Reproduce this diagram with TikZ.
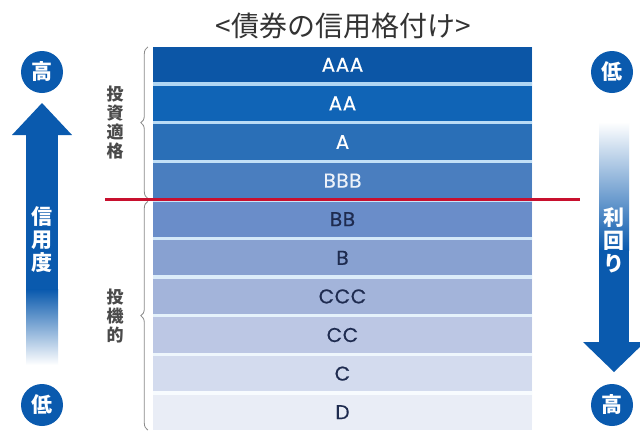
\documentclass[tikz,border=0pt]{standalone}
\usepackage{fontspec}
\setmainfont{Noto Sans CJK JP}
\newfontfamily\ratingfont[FakeBold=0.5, LetterSpace=3]{Poppins}
\usetikzlibrary{calc,positioning,decorations.pathreplacing}
\definecolor{RateAAA}{HTML}{0C56A6}
\definecolor{RateAA}{HTML}{1064B6}
\definecolor{RateA}{HTML}{2A6FB7}
\definecolor{RateBBB}{HTML}{4A7EBF}
\definecolor{RateBB}{HTML}{6A8DC9}
\definecolor{RateB}{HTML}{88A1D1}
\definecolor{RateCCC}{HTML}{A3B4DA}
\definecolor{RateCC}{HTML}{BCC7E4}
\definecolor{RateC}{HTML}{D3DBEE}
\definecolor{RateD}{HTML}{E9EDF6}
\definecolor{ArrowBlue}{HTML}{0A5AAE}
\definecolor{GapSky}{HTML}{A8D2F2}
\definecolor{BraceGray}{HTML}{8A8A8A}
\definecolor{LabelGray}{HTML}{4A4A4A}
\definecolor{TitleGray}{HTML}{333333}
\definecolor{CutRed}{HTML}{C8102E}
\definecolor{TextNavy}{HTML}{1E2B4F}

\begin{document}
\begin{tikzpicture}[x=1pt, y=-1pt, node distance=3pt, every node/.style={inner sep=0pt},
    rating/.style={minimum width=379pt, minimum height=35.2pt, font=\ratingfont\fontsize{20}{20}\selectfont},
    badge/.style={circle, fill=ArrowBlue, minimum size=42pt, text=white, font=\bfseries\fontsize{21}{21}\selectfont},
    tatelabel/.style={align=center, text=LabelGray, font=\bfseries\fontsize{17}{19}\selectfont},
    arrowlabel/.style={align=center, text=white, font=\bfseries\fontsize{21}{23}\selectfont}]
    \useasboundingbox[fill=white] (0,0) rectangle (640,432);

    \node[text=TitleGray, font=\fontsize{28}{28}\selectfont] (title) at (343,26) {<債券の信用格付け>};

    % rating ladder
    \fill[top color=GapSky, bottom color=white] (153,47) rectangle (532,428);
    \node[rating, fill=RateAAA, text=white, anchor=north] (aaa) at (342.5,47) {AAA};
    \node[rating, fill=RateAA, text=white, below=of aaa] (aa) {AA};
    \node[rating, fill=RateA, text=white, below=of aa] (a) {A};
    \node[rating, fill=RateBBB, text=white!90!RateBBB, below=of a] (bbb) {BBB};
    \node[rating, fill=RateBB, text=TextNavy, below=of bbb] (bb) {BB};
    \node[rating, fill=RateB, text=TextNavy, below=of bb] (b) {B};
    \node[rating, fill=RateCCC, text=TextNavy, below=of b] (ccc) {CCC};
    \node[rating, fill=RateCC, text=TextNavy, below=of ccc] (cc) {CC};
    \node[rating, fill=RateC, text=TextNavy, below=of cc] (c) {C};
    \node[rating, fill=RateD, text=TextNavy, below=of c] (d) {D};

    % braces and their labels
    \draw[BraceGray, line width=0.8pt, decorate, decoration={brace, amplitude=7pt}] ([xshift=-5pt]bbb.south west) -- ([xshift=-5pt]aaa.north west) coordinate[midway, xshift=-12pt] (investtip);
    \draw[BraceGray, line width=0.8pt, decorate, decoration={brace, amplitude=7pt}] ([xshift=-5pt]d.south west) -- ([xshift=-5pt]bb.north west) coordinate[midway, xshift=-12pt] (specutip);
    \node[tatelabel, left=12pt of investtip] (invest) {投\\資\\適\\格};
    \node[tatelabel, left=12pt of specutip] (specu) {投\\機\\的};

    % investment grade cut
    \coordinate (cut) at ($(bbb.south)!0.5!(bb.north)$);
    \draw[CutRed, line width=3pt] (cut -| 105,0) -- (cut -| 580,0);

    % credit arrow (left)
    \fill[ArrowBlue] (12,135) -- (42,103) -- (72,135) -- cycle;
    \fill[ArrowBlue] (26,134) rectangle (58,290);
    \fill[top color=ArrowBlue, bottom color=white] (26,289.5) rectangle (58,365);
    \node[arrowlabel] (credit) at (42,240) {信\\用\\度};
    \node[badge] (credithigh) at (42,72) {高};
    \node[badge] (creditlow) at (42,405) {低};

    % yield arrow (right)
    \fill[top color=white, bottom color=ArrowBlue] (599,122) rectangle (629,250);
    \fill[ArrowBlue] (599,249.5) rectangle (629,343);
    \fill[ArrowBlue] (583,342) -- (614,372) -- (645,342) -- cycle;
    \node[arrowlabel] (yield) at (614,240) {利\\回\\り};
    \node[badge] (yieldlow) at (612,72) {低};
    \node[badge] (yieldhigh) at (612,405) {高};
\end{tikzpicture}
\end{document}
